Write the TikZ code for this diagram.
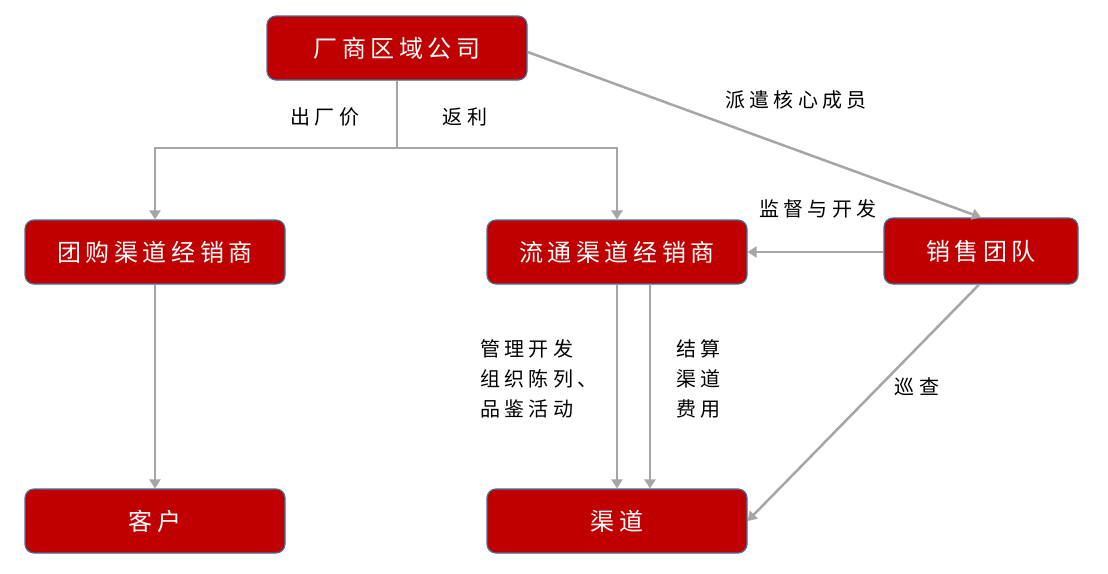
\documentclass[tikz,border=0pt]{standalone}
\usepackage{fontspec}
\newfontfamily\cjk[LetterSpace=19]{Noto Sans CJK SC}
\newfontfamily\cjklab[LetterSpace=22]{Noto Sans CJK SC}
\usetikzlibrary{arrows.meta}
\definecolor{boxred}{HTML}{C00000}
\definecolor{boxedge}{HTML}{41719C}
\definecolor{arrgray}{HTML}{A6A6A6}
\begin{document}
\begin{tikzpicture}[x=1pt,y=-1pt,
  box/.style={draw=boxedge, line width=1.2pt, fill=boxred, rounded corners=9pt,
    minimum width=260pt, minimum height=64pt, inner sep=0pt, text=white,
    font=\cjk\fontsize{24}{26}\selectfont},
  conn/.style={draw=arrgray, line width=2.5pt, -{Triangle[length=9pt,width=11pt]}},
  line/.style={draw=arrgray, line width=2.5pt},
  lab/.style={text=black, font=\cjklab\fontsize{20}{30}\selectfont, inner sep=0pt, align=left}]
\useasboundingbox (0,0) rectangle (1108,573);
\node[box] (hq) at (397,48) {厂商区域公司};
\node[box] (tg) at (155,252) {团购渠道经销商};
\node[box] (lt) at (617,252) {流通渠道经销商};
\node[box, minimum width=194pt, minimum height=66pt] (xs) at (981,251) {销售团队};
\node[box] (kh) at (155,521) {客户};
\node[box] (qd) at (617,521) {渠道};
\coordinate (j) at (397,148);
\draw[line] (hq.south) -- (j);
\draw[conn] (j) -| (tg.north);
\draw[conn] (j) -| (lt.north);
\draw[conn] (hq.east |- 0,52) -- (xs.north);
\draw[conn] (xs.west |- lt.east) -- (lt.east);
\draw[conn] ([xshift=-2pt]xs.south) -- (qd.east);
\draw[conn] (tg.south) -- (kh.north);
\draw[conn] (lt.south) -- (qd.north);
\draw[conn] ([xshift=33pt]lt.south) -- ([xshift=33pt]qd.north);
\node[lab] (l1) at (325,117) {出厂价};
\node[lab] (l2) at (465,117) {返利};
\node[lab] (l3) at (796,100) {派遣核心成员};
\node[lab] (l4) at (818,209) {监督与开发};
\node[lab, anchor=west] (l5) at (480,379) {管理开发\\组织陈列、\\品鉴活动};
\node[lab, anchor=west] (l6) at (676,379) {结算\\渠道\\费用};
\node[lab] (l7) at (917,387) {巡查};
\end{tikzpicture}
\end{document}
